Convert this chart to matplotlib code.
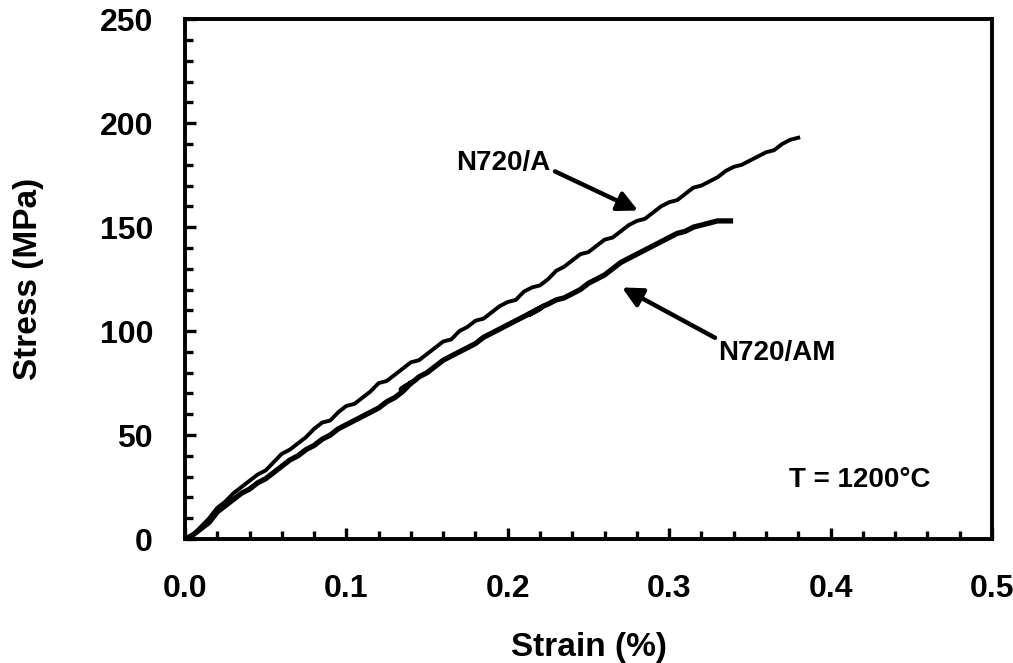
import matplotlib
matplotlib.use("Agg")
import matplotlib.pyplot as plt
from matplotlib.ticker import MultipleLocator

plt.rcParams['font.family'] = ['Liberation Sans', 'DejaVu Sans']
plt.rcParams['font.weight'] = 'bold'

# N720/A (upper curve)
strain_a = [0.000, 0.005, 0.010, 0.015, 0.020, 0.025, 0.030, 0.035, 0.040, 0.045,
            0.050, 0.055, 0.060, 0.065, 0.070, 0.075, 0.080, 0.085, 0.090, 0.095,
            0.100, 0.105, 0.110, 0.115, 0.120, 0.125, 0.130, 0.135, 0.140, 0.145,
            0.150, 0.155, 0.160, 0.165, 0.170, 0.175, 0.180, 0.185, 0.190, 0.195,
            0.200, 0.205, 0.210, 0.215, 0.220, 0.225, 0.230, 0.235, 0.240, 0.245,
            0.250, 0.255, 0.260, 0.265, 0.270, 0.275, 0.280, 0.285, 0.290, 0.295,
            0.300, 0.305, 0.310, 0.315, 0.320, 0.325, 0.330, 0.335, 0.340, 0.345,
            0.350, 0.355, 0.360, 0.365, 0.370, 0.375, 0.380]
stress_a = [0, 2, 6, 10, 15, 18, 22, 25, 28, 31,
            33, 37, 41, 43, 46, 49, 53, 56, 57, 61,
            64, 65, 68, 71, 75, 76, 79, 82, 85, 86,
            89, 92, 95, 96, 100, 102, 105, 106, 109, 112,
            114, 115, 119, 121, 122, 125, 129, 131, 134, 137,
            138, 141, 144, 145, 148, 151, 153, 154, 157, 160,
            162, 163, 166, 169, 170, 172, 174, 177, 179, 180,
            182, 184, 186, 187, 190, 192, 193]

# N720/AM (lower curve, with two small unload/reload loops)
strain_am = [0.000, 0.005, 0.010, 0.015, 0.020, 0.025, 0.030, 0.035, 0.040, 0.045,
             0.050, 0.055, 0.060, 0.065, 0.070, 0.075, 0.080, 0.085, 0.090, 0.095,
             0.100, 0.105, 0.110, 0.115, 0.120, 0.125, 0.130, 0.135, 0.140, 0.134,
             0.138, 0.142, 0.145, 0.150, 0.155, 0.160, 0.165, 0.170, 0.175, 0.180,
             0.185, 0.190, 0.195, 0.200, 0.205, 0.210, 0.215, 0.220, 0.213, 0.218,
             0.222, 0.225, 0.230, 0.235, 0.240, 0.245, 0.250, 0.255, 0.260, 0.265,
             0.270, 0.275, 0.280, 0.285, 0.290, 0.295, 0.300, 0.305, 0.310, 0.315,
             0.320, 0.325, 0.330, 0.335, 0.338]
stress_am = [0, 2, 5, 8, 13, 16, 19, 22, 24, 27,
             29, 32, 35, 38, 40, 43, 45, 48, 50, 53,
             55, 57, 59, 61, 63, 66, 68, 71, 75, 72,
             74, 76, 78, 80, 83, 86, 88, 90, 92, 94,
             97, 99, 101, 103, 105, 107, 109, 111, 108, 110,
             112, 113, 115, 116, 118, 120, 123, 125, 127, 130,
             133, 135, 137, 139, 141, 143, 145, 147, 148, 150,
             151, 152, 153, 153, 153]

fig = plt.figure(figsize=(10.13, 6.63), dpi=100)
ax = fig.add_axes([0.1826, 0.187, 0.7966, 0.784])

ax.plot(strain_a, stress_a, color='black', lw=2.8)
ax.plot(strain_am, stress_am, color='black', lw=3.8)

ax.set_xlim(0, 0.5)
ax.set_ylim(0, 250)
ax.xaxis.set_major_locator(MultipleLocator(0.1))
ax.xaxis.set_minor_locator(MultipleLocator(0.02))
ax.yaxis.set_major_locator(MultipleLocator(50))
ax.yaxis.set_minor_locator(MultipleLocator(10))
ax.xaxis.set_major_formatter(plt.FormatStrFormatter('%.1f'))

for s in ax.spines.values():
    s.set_linewidth(2.8)
ax.tick_params(which='both', direction='in', top=False, right=False, width=2.4,
               labelsize=23)
ax.tick_params(axis='x', pad=25)
ax.tick_params(axis='y', pad=23)
ax.tick_params(which='major', length=8)
ax.tick_params(which='minor', length=6)

ax.set_xlabel('Strain (%)', fontsize=24, fontweight='bold', labelpad=20)
ax.set_ylabel('Stress (MPa)', fontsize=24, fontweight='bold', labelpad=40)

arrow = dict(arrowstyle='-|>', color='black', lw=3.2, mutation_scale=30,
             shrinkA=0, shrinkB=0)
ax.annotate('', xy=(0.2807, 158), xytext=(0.2293, 176.8), arrowprops=arrow)
ax.annotate('', xy=(0.2708, 121), xytext=(0.3284, 96.8), arrowprops=arrow)
ax.text(0.197, 181, 'N720/A', fontsize=20, fontweight='bold',
        ha='center', va='center')
ax.text(0.367, 89.6, 'N720/AM', fontsize=20, fontweight='bold',
        ha='center', va='center')
ax.text(0.418, 28.4, 'T = 1200\u00b0C', fontsize=20, fontweight='bold',
        ha='center', va='center')

fig.savefig('out.png', dpi=100)
